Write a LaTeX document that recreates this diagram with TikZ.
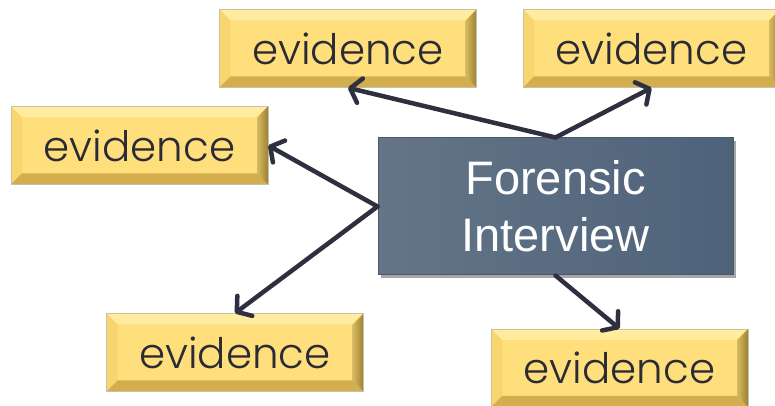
\documentclass[tikz,border=0pt]{standalone}
\usepackage{fontspec}
\newfontfamily\evfont{Poppins Light}
\newfontfamily\arialfont{Liberation Sans}
\usetikzlibrary{arrows.meta,shadows}
\definecolor{evfill}{HTML}{FFDF7C}
\definecolor{evtop}{HTML}{FFEC9E}
\definecolor{evleft}{HTML}{F7D670}
\definecolor{evbottom}{HTML}{D2AE4E}
\definecolor{evright}{HTML}{9C8236}
\definecolor{evborder}{HTML}{C8C0A8}
\definecolor{evtext}{HTML}{2B2B36}
\definecolor{cleft}{HTML}{647587}
\definecolor{cright}{HTML}{4E627A}
\definecolor{cborder}{HTML}{4A5A6C}
\definecolor{arrowcol}{HTML}{2E3040}
\tikzset{
  evbox/.style={minimum width=257pt, minimum height=78pt, inner sep=0pt,
    fill=evfill, draw=evborder, line width=0.6pt,
    font=\evfont\fontsize{42}{50}\selectfont, text=evtext,
    path picture={
      \fill[evtop] (path picture bounding box.north west) -- (path picture bounding box.north east)
        -- ([shift={(-11pt,-11pt)}]path picture bounding box.north east)
        -- ([shift={(11pt,-11pt)}]path picture bounding box.north west) -- cycle;
      \fill[evleft] (path picture bounding box.north west) -- (path picture bounding box.south west)
        -- ([shift={(11pt,11pt)}]path picture bounding box.south west)
        -- ([shift={(11pt,-11pt)}]path picture bounding box.north west) -- cycle;
      \fill[evbottom] (path picture bounding box.south west) -- (path picture bounding box.south east)
        -- ([shift={(-11pt,11pt)}]path picture bounding box.south east)
        -- ([shift={(11pt,11pt)}]path picture bounding box.south west) -- cycle;
      \shade[left color=evfill!60!evright, right color=evright]
        (path picture bounding box.north east) -- (path picture bounding box.south east)
        -- ([shift={(-11pt,11pt)}]path picture bounding box.south east)
        -- ([shift={(-11pt,-11pt)}]path picture bounding box.north east) -- cycle;
    }},
  centerbox/.style={minimum width=355pt, minimum height=137pt, inner sep=0pt,
    left color=cleft, right color=cright, draw=cborder, line width=1pt,
    drop shadow={shadow xshift=3pt, shadow yshift=-3pt, opacity=0.35, fill=black},
    align=center, text=white, font=\arialfont\fontsize{47}{57}\selectfont},
  conn/.style={draw=arrowcol, line width=4.5pt, line cap=round,
    -{Straight Barb[length=10pt, width=25pt, line cap=round, line join=round]}}
}
\begin{document}
\begin{tikzpicture}[x=1pt,y=1pt]
\useasboundingbox (0,0) rectangle (775,406);
\fill[white] (0,0) rectangle (775,406);
\node[centerbox] (c) at (555.5,199.5) {Forensic\\Interview};
\node[evbox] (tm) at (348,357.5) {evidence};
\node[evbox] (tr) at (651.5,357.5) {evidence};
\node[evbox] (l) at (139.5,260.5) {evidence};
\node[evbox] (bl) at (235,53.5) {evidence};
\node[evbox] (br) at (619.5,38) {evidence};
\draw[conn] (c.north) -- (tm.south);
\draw[conn] (c.north) -- (tr.south);
\draw[conn] (c.west) -- (l.east);
\draw[conn] (c.west) -- (bl.north);
\draw[conn] (c.south) -- (br.north);
\end{tikzpicture}
\end{document}
